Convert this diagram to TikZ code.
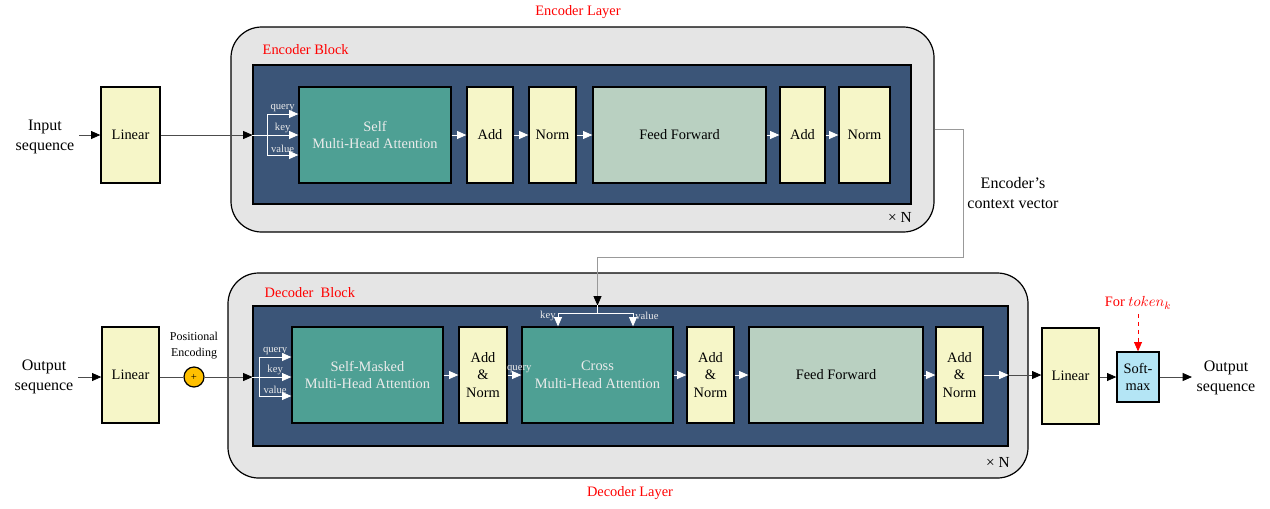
\documentclass[tikz,border=0pt]{standalone}
\usepackage{fontspec}
\setmainfont{Liberation Serif}
\usepackage{tikz}
\usetikzlibrary{calc}
\usetikzlibrary{arrows.meta}
\usetikzlibrary{positioning}

\definecolor{layergray}{RGB}{229,229,229}
\definecolor{blocknavy}{RGB}{59,85,120}
\definecolor{attteal}{RGB}{78,160,148}
\definecolor{normyellow}{RGB}{246,246,200}
\definecolor{ffgreen}{RGB}{185,208,193}
\definecolor{smaxblue}{RGB}{180,229,245}
\definecolor{peorange}{RGB}{255,192,0}

\newcommand\mainsz{\fontsize{10.8}{13.2}\selectfont}
\newcommand\outsz{\fontsize{12}{15}\selectfont}
\newcommand\qkvsz{\fontsize{8}{9}\selectfont}
\newcommand\pesz{\fontsize{9}{12}\selectfont}

\begin{document}
\begin{tikzpicture}[
      x=0.75pt, y=-0.75pt,
      wh/.style 2 args={minimum width=#1*0.75pt, minimum height=#2*0.75pt},
      layerbox/.style={rectangle, draw=black, line width=0.9pt, fill=layergray, rounded corners=23pt, inner sep=0pt},
      blockbg/.style ={rectangle, draw=black, line width=0.8pt, fill=blocknavy, inner sep=0pt},
      cellbox/.style ={rectangle, draw=black, line width=1pt, inner sep=0pt, align=center, font=\mainsz},
      linbox/.style  ={cellbox, fill=normyellow},
      attbox/.style  ={cellbox, fill=attteal, text=white!92!black},
      ffbox/.style   ={cellbox, fill=ffgreen},
      smaxbox/.style ={cellbox, fill=smaxblue},
      pecircle/.style={circle, draw=black, line width=0.9pt, fill=peorange, minimum size=15pt, inner sep=0pt, font=\qkvsz},
      redlabel/.style={text=red, font=\mainsz},
      outtxt/.style  ={align=center, font=\outsz},
      timesn/.style  ={font=\fontsize{11.5}{13}\selectfont},
      qkv/.style     ={text=white!92!black, font=\qkvsz, inner sep=1.5pt},
      arr/.style ={draw=black!70, line width=0.6pt, -{Triangle[length=7pt, width=6pt, color=black]}},
      warr/.style={draw=white, line width=0.6pt, -{Triangle[length=7pt, width=6pt]}},
      wline/.style={draw=white, line width=0.6pt},
      gline/.style={draw=black!70, line width=0.6pt},
      ctxline/.style={draw=black!40, line width=0.6pt, -{Triangle[length=7pt, width=6pt, color=black]}},
      redarr/.style={draw=red, line width=0.6pt, dashed, -{Triangle[length=7pt, width=6pt]}}
    ]
    \useasboundingbox (0,0) rectangle (1270,508) ;

    % encoder layer
    \node [layerbox, wh={703}{205}] (enclayer) at (582.5,129.5) {} ;
    \node [blockbg, wh={658}{139}] (encblock) at (582,134.5) {} ;
    \node [redlabel] (enclayertxt) at (578,12) {Encoder Layer} ;
    \node [redlabel, anchor=west] (encblocktxt) at (258,50) {Encoder Block} ;
    \node [timesn] (encn) at (900,217) {× N} ;

    \node [outtxt] (inE) at (45,137) {Input\\sequence} ;
    \node [linbox, wh={59}{96}] (linE) at (130.5,135) {Linear} ;
    \node [attbox, wh={152}{96}] (sma) at (375,135) {Self\\Multi-Head Attention} ;
    \node [linbox, wh={46}{96}] (addE1) at (490,135) {Add} ;
    \node [linbox, wh={47}{96}] (normE1) at (552.5,135) {Norm} ;
    \node [ffbox, wh={173}{96}] (ffE) at (679.5,135) {Feed Forward} ;
    \node [linbox, wh={45}{96}] (addE2) at (802.5,135) {Add} ;
    \node [linbox, wh={51}{96}] (normE2) at (864.5,135) {Norm} ;

    \draw [arr] (inE.east |- linE.west) -- (linE.west) ;
    \draw [arr] (linE) -- (linE -| encblock.west) ;
    \coordinate (brE) at (267,135) ;
    \draw [wline] (linE -| encblock.west) -- (brE) ;
    \draw [warr] (brE) |- node[pos=0.75, above, qkv] {query} ($(sma.west)+(0,-21)$) ;
    \draw [warr] (brE) -- node[above, qkv] {key} (sma.west) ;
    \draw [warr] (brE) |- node[pos=0.75, above, qkv] {value} ($(sma.west)+(0,20)$) ;
    \draw [warr] (sma) -- (addE1) ;
    \draw [warr] (addE1) -- (normE1) ;
    \draw [warr] (normE1) -- (ffE) ;
    \draw [warr] (ffE) -- (addE2) ;
    \draw [warr] (addE2) -- (normE2) ;

    % decoder layer
    \node [layerbox, wh={800}{205}] (declayer) at (628,375.5) {} ;
    \node [blockbg, wh={755}{140}] (decblock) at (630.5,376) {} ;
    \node [redlabel] (declayertxt) at (630,493) {Decoder Layer} ;
    \node [redlabel, anchor=west] (decblocktxt) at (260,293) {Decoder~~Block} ;
    \node [timesn] (decn) at (998,462) {× N} ;

    \node [outtxt] (outD) at (44,377) {Output\\sequence} ;
    \node [linbox, wh={57}{96}] (linD) at (130.5,375) {Linear} ;
    \node [pecircle] (pe) at (194,377) {+} ;
    \node [align=center, font=\pesz, above=2pt of pe] (petxt) {Positional\\Encoding} ;
    \node [attbox, wh={151}{96}] (smm) at (367.5,375) {Self-Masked\\Multi-Head Attention} ;
    \node [linbox, wh={48}{96}] (an1) at (483,375) {Add\\\&\\Norm} ;
    \node [attbox, wh={151}{96}] (cross) at (597.5,375) {Cross\\Multi-Head Attention} ;
    \node [linbox, wh={47}{96}] (an2) at (710.5,375) {Add\\\&\\Norm} ;
    \node [ffbox, wh={174}{96}] (ffD) at (836,375) {Feed Forward} ;
    \node [linbox, wh={47}{96}] (an3) at (959.5,375) {Add\\\&\\Norm} ;

    \node [linbox, wh={57}{96}] (linO) at (1070.5,376) {Linear} ;
    \node [smaxbox, wh={42}{50}] (smax) at (1138,377) {Soft-\\max} ;
    \node [redlabel] (tok) at (1138,303) {For $token_k$} ;
    \node [outtxt] (outO) at (1226,378) {Output\\sequence} ;
    \node [outtxt] (ctxtxt) at (1013,193) {Encoder’s\\context vector} ;

    \draw [arr] (outD.east |- pe) -- (linD.west |- pe) ;
    \draw [gline] (linD.east |- pe) -- (pe) ;
    \draw [arr] (pe) -- (pe -| decblock.west) ;
    \coordinate (brD) at (259,377) ;
    \draw [wline] (pe -| decblock.west) -- (brD) ;
    \draw [warr] (brD) |- node[pos=0.75, above, qkv] {query} ($(smm.west |- brD)+(0,-20)$) ;
    \draw [warr] (brD) -- node[above, qkv] {key} (smm.west |- brD) ;
    \draw [warr] (brD) |- node[pos=0.75, above, qkv] {value} ($(smm.west |- brD)+(0,19)$) ;
    \draw [warr] (smm) -- (an1) ;
    \draw [warr] (an1) -- node[pos=0.85, above, qkv] {query} (cross) ;
    \draw [warr] (cross) -- (an2) ;
    \draw [warr] (an2) -- (ffD) ;
    \draw [warr] (ffD) -- (an3) ;
    \draw [warr] (an3.east) -- (an3.east -| decblock.east) ;
    \draw [arr] (an3.east -| decblock.east) -- (linO.west |- an3.east) ;
    \draw [arr] (linO.east |- smax) -- (smax) ;
    \draw [arr] (smax.east) -- (outO.west |- smax.east) ;
    \draw [redarr] (tok) -- (smax) ;

    % context vector into the cross attention
    \draw [ctxline] (enclayer.east) -- ++(29,0) -- ++(0,128) -| (cross.north |- decblock.north) ;
    \coordinate (kv) at (597.5,313) ;
    \draw [wline] (cross.north |- decblock.north) -- (kv) ;
    \draw [warr] (kv) -| node[pos=0.6, left, qkv] {key} ($(cross.north)+(-39.5,0)$) ;
    \draw [warr] (kv) -| node[pos=0.6, right, qkv] {value} ($(cross.north)+(35.5,0)$) ;
  \end{tikzpicture}
\end{document}
